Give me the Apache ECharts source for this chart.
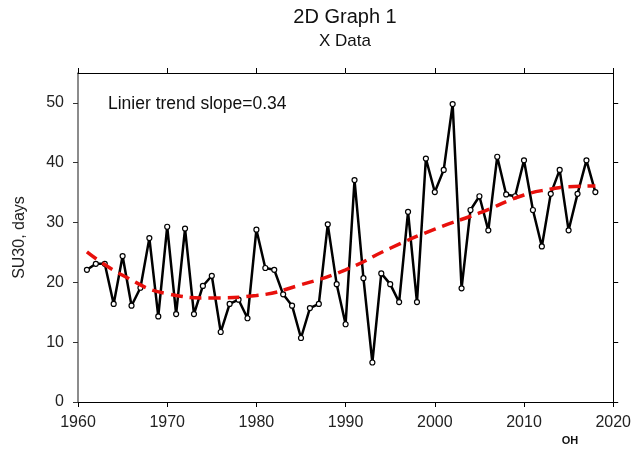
<!DOCTYPE html>
<html>
<head>
<meta charset="utf-8">
<script src="https://cdn.jsdelivr.net/npm/echarts@6/dist/echarts.min.js"></script>
<style>html,body{margin:0;padding:0;background:#fff}#c{width:634px;height:451px}</style>
</head>
<body>
<div id="c"></div>
<script>
var years = [1961,1962,1963,1964,1965,1966,1967,1968,1969,1970,1971,1972,1973,1974,1975,1976,1977,1978,1979,1980,
  1981,1982,1983,1984,1985,1986,1987,1988,1989,1990,1991,1992,1993,1994,1995,1996,1997,1998,1999,2000,
  2001,2002,2003,2004,2005,2006,2007,2008,2009,2010,2011,2012,2013,2014,2015,2016,2017,2018];
var su30 = [22.1,23.1,23.1,16.4,24.4,16.1,19.1,27.4,14.3,29.3,14.7,29.0,14.7,19.4,21.1,11.7,16.4,17.1,14.0,28.8,
  22.4,22.1,18.0,16.1,10.7,15.7,16.4,29.7,19.7,13.0,37.1,20.7,6.6,21.5,19.7,16.7,31.8,16.7,40.7,35.1,
  38.8,49.8,19.0,32.1,34.4,28.7,41.0,34.7,34.4,40.4,32.1,26.0,34.8,38.8,28.7,34.8,40.4,35.1];
var trendYears = [1961,1965,1970,1975,1980,1985,1990,1995,2000,2005,2010,2013,2015,2018];
var trendValues = [25.1,21.2,18.1,17.4,17.8,19.6,22.1,25.7,28.9,31.6,34.6,35.6,36.0,36.1];
var xTicks = [1960,1970,1980,1990,2000,2010,2020];
var yTicks = [0,10,20,30,40,50];

var obs = years.map(function(y,i){return [y, su30[i]];});
var trend = trendYears.map(function(y,i){return [y, trendValues[i]];});

var chart = echarts.init(document.getElementById('c'));
var font = 'Liberation Sans, Arial, sans-serif';
chart.setOption({
  animation: false,
  backgroundColor: '#fff',
  grid: {left: 78, right: 20, top: 73, bottom: 49},
  xAxis: [
    {type: 'value', min: 1960, max: 2020, interval: 10, position: 'bottom',
     axisLine: {show: true, onZero: false, lineStyle: {color: '#000', width: 1}},
     axisTick: {show: true, inside: false, length: 5, lineStyle: {color: '#000'}},
     axisLabel: {color: '#222', fontFamily: font, fontSize: 16, margin: 13, formatter: function(v){return String(v);}},
     splitLine: {show: false}},
    {type: 'value', min: 1960, max: 2020, interval: 10, position: 'top',
     axisLine: {show: true, onZero: false, lineStyle: {color: '#000', width: 1}},
     axisTick: {show: true, inside: false, length: 5, lineStyle: {color: '#000'}},
     axisLabel: {show: false}, splitLine: {show: false}}
  ],
  yAxis: [
    {type: 'value', min: 0, max: 55, position: 'left',
     name: 'SU30, days', nameLocation: 'middle', nameGap: 50, nameRotate: 90,
     nameTextStyle: {fontFamily: font, fontSize: 16, color: '#222'},
     axisLine: {show: true, onZero: false, lineStyle: {color: '#666', width: 1.5}},
     axisTick: {show: true, inside: false, length: 5, customValues: yTicks, lineStyle: {color: '#333'}},
     axisLabel: {color: '#222', fontFamily: font, fontSize: 16, margin: 14, customValues: yTicks},
     splitLine: {show: false}},
    {type: 'value', min: 0, max: 55, position: 'right',
     axisLine: {show: true, onZero: false, lineStyle: {color: '#000', width: 1}},
     axisTick: {show: true, inside: false, length: 5, customValues: yTicks, lineStyle: {color: '#000'}},
     axisLabel: {show: false}, splitLine: {show: false}}
  ],
  series: [
    {type: 'line', xAxisIndex: 0, yAxisIndex: 0, data: obs,
     symbol: 'circle', symbolSize: 5,
     lineStyle: {color: '#000', width: 2.5},
     itemStyle: {color: '#fff', borderColor: '#000', borderWidth: 1.2},
     z: 3},
    {type: 'line', xAxisIndex: 0, yAxisIndex: 0, data: trend, smooth: 0.5,
     showSymbol: false, symbol: 'none',
     lineStyle: {color: '#e8100c', width: 3.5, type: [12, 7]},
     z: 4}
  ],
  graphic: [
    {type: 'text', x: 345, y: 17,
     style: {text: '2D Graph 1', fill: '#111', font: '20px ' + font, textAlign: 'center', textVerticalAlign: 'middle'}},
    {type: 'text', x: 345, y: 41,
     style: {text: 'X Data', fill: '#111', font: '17px ' + font, textAlign: 'center', textVerticalAlign: 'middle'}},
    {type: 'text', x: 108, y: 104,
     style: {text: 'Linier trend slope=0.34', fill: '#111', font: '17.5px ' + font, textVerticalAlign: 'middle'}},
    {type: 'text', x: 570, y: 441,
     style: {text: 'OH', fill: '#111', font: 'bold 11px ' + font, textAlign: 'center', textVerticalAlign: 'middle'}}
  ]
});
</script>
</body>
</html>
